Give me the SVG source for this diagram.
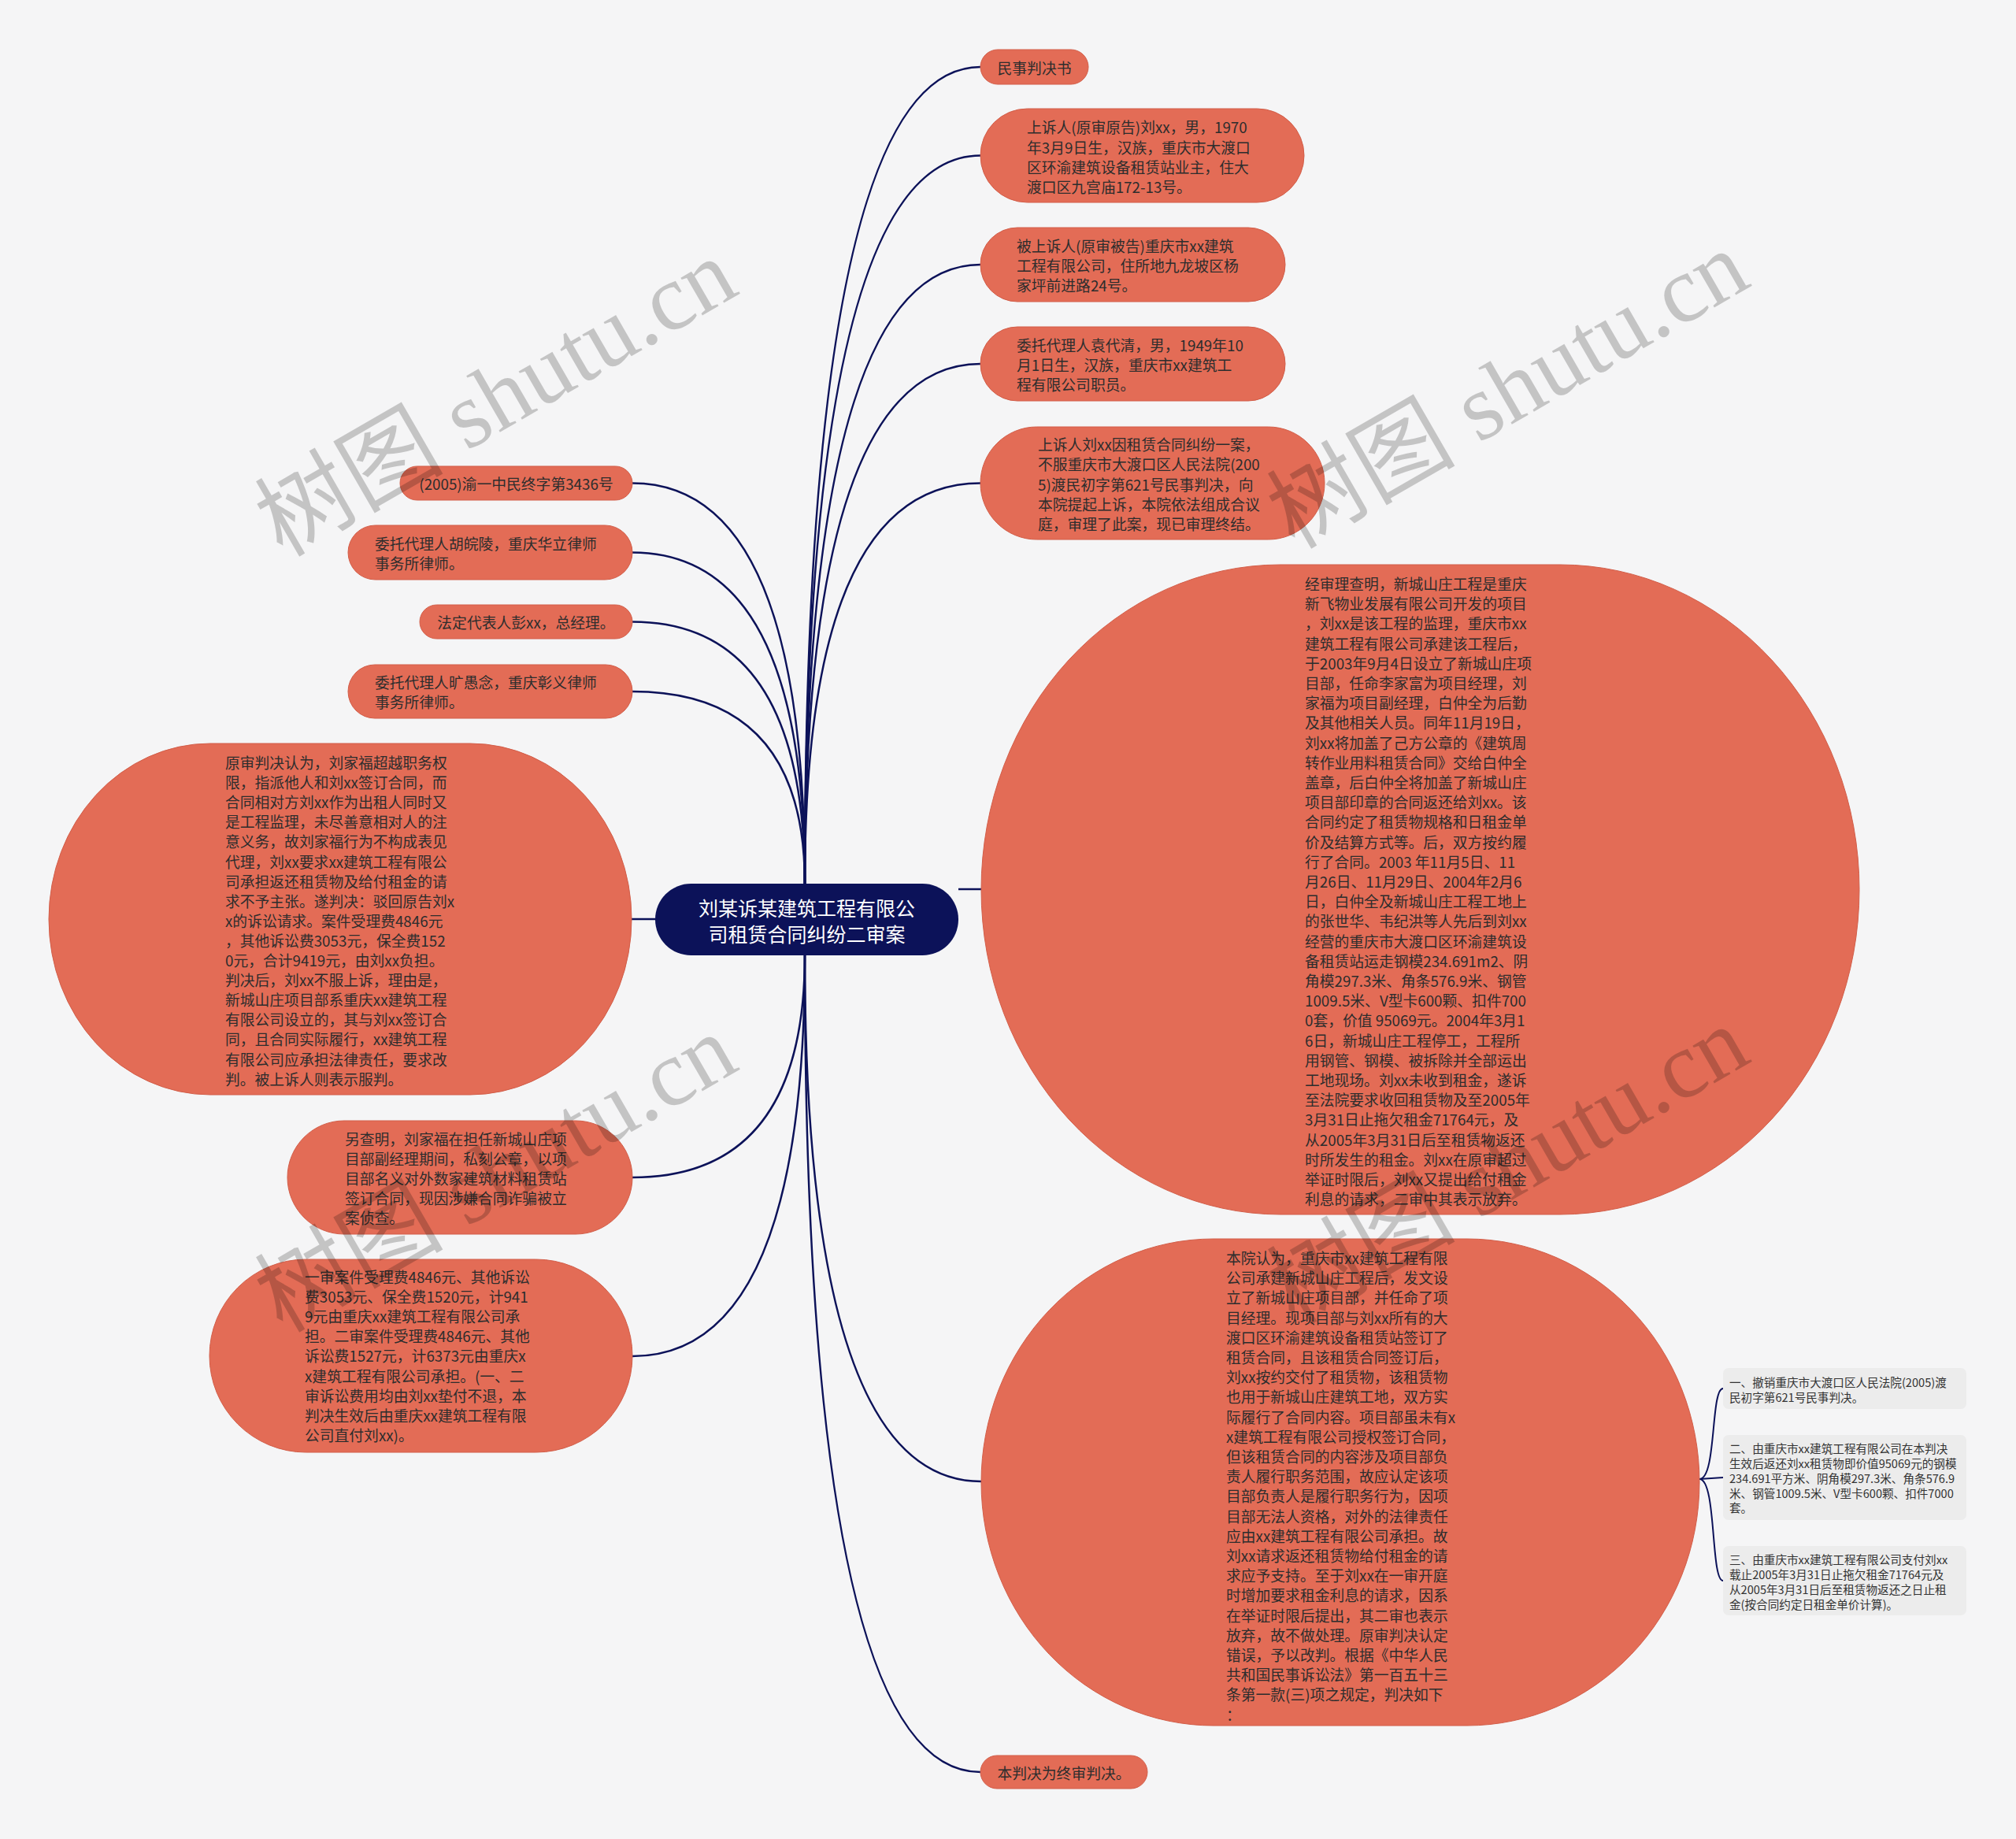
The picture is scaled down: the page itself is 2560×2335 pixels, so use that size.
<svg xmlns="http://www.w3.org/2000/svg" width="2560" height="2335" viewBox="0 0 2560 2335">
<style>
.n rect{fill:#e36c56;stroke:#d25d48;stroke-width:1}
.t{font-family:"Noto Sans CJK SC","Noto Sans",sans-serif;font-size:18.8px;fill:#2d2d2d;dominant-baseline:central}
.m{text-anchor:middle}
.c path{stroke:#0c1259;fill:none;stroke-width:2.5}
.lf rect{fill:#ececec}
.lt{font-family:"Noto Sans CJK SC","Noto Sans",sans-serif;font-size:14.6px;fill:#333;dominant-baseline:central}
.wm{font-family:"Liberation Serif","Noto Sans CJK SC",serif;font-size:120px;fill:#000;fill-opacity:0.2;text-anchor:middle}
</style>
<rect x="0" y="0" width="2560" height="2335" fill="#f5f5f6"/>
<g class="c" id="connectors">
<path d="M1022,1122 Q1022,85 1245,85"/>
<path d="M1022,1122 Q1022,197.5 1245,197.5"/>
<path d="M1022,1122 Q1022,336 1245,336"/>
<path d="M1022,1122 Q1022,462 1245,462"/>
<path d="M1022,1122 Q1022,613.5 1245,613.5"/>
<path d="M1022,1122 Q1022,613.5 803,613.5"/>
<path d="M1022,1122 Q1022,701.5 803,701.5"/>
<path d="M1022,1122 Q1022,789.5 803,789.5"/>
<path d="M1022,1122 Q1022,878 803,878"/>
<path d="M832,1167 L802,1167"/>
<path d="M1217,1129 L1246,1129"/>
<path d="M1022,1213 Q1022,1495 803,1495"/>
<path d="M1022,1213 Q1022,1722 803,1722"/>
<path d="M1022,1213 Q1022,1881 1246,1881"/>
<path d="M1022,1213 Q1022,2250 1245,2250"/>
<path d="M2158,1878 C2180,1878 2172,1763 2188,1763" style="stroke-width:2"/>
<path d="M2158,1878 L2188,1876" style="stroke-width:2"/>
<path d="M2158,1878 C2180,1878 2172,2007 2188,2007" style="stroke-width:2"/>
</g>
<g id="root">
<rect x="832" y="1122" width="385" height="91" rx="45.5" fill="#0c1259"/>
<text x="1024.5" y="1152" font-family="Noto Sans CJK SC, sans-serif" font-size="25" fill="#fff" text-anchor="middle" dominant-baseline="central">刘某诉某建筑工程有限公</text>
<text x="1024.5" y="1185" font-family="Noto Sans CJK SC, sans-serif" font-size="25" fill="#fff" text-anchor="middle" dominant-baseline="central">司租赁合同纠纷二审案</text>
</g>
<g class="n" id="n1"><rect x="1245" y="63" width="137" height="44" rx="22"/><text class="t m" x="1313.5" y="85">民事判决书</text></g>
<g class="n" id="n2"><rect x="1245" y="138" width="411" height="119" rx="59.5"/>
<text class="t"><tspan x="1304" y="160">上诉人(原审原告)刘xx，男，1970</tspan><tspan x="1304" y="185.5">年3月9日生，汉族，重庆市大渡口</tspan><tspan x="1304" y="211">区环渝建筑设备租赁站业主，住大</tspan><tspan x="1304" y="236">渡口区九宫庙172-13号。</tspan></text></g>
<g class="n" id="n3"><rect x="1245" y="289" width="387" height="94" rx="47"/>
<text class="t"><tspan x="1291" y="311">被上诉人(原审被告)重庆市xx建筑</tspan><tspan x="1291" y="336">工程有限公司，住所地九龙坡区杨</tspan><tspan x="1291" y="361">家坪前进路24号。</tspan></text></g>
<g class="n" id="n4"><rect x="1245" y="415" width="387" height="94" rx="47"/>
<text class="t"><tspan x="1291" y="437">委托代理人袁代清，男，1949年10</tspan><tspan x="1291" y="462">月1日生，汉族，重庆市xx建筑工</tspan><tspan x="1291" y="487">程有限公司职员。</tspan></text></g>
<g class="n" id="n5"><rect x="1245" y="542" width="437" height="143" rx="71.5"/>
<text class="t"><tspan x="1318" y="563">上诉人刘xx因租赁合同纠纷一案，</tspan><tspan x="1318" y="588">不服重庆市大渡口区人民法院(200</tspan><tspan x="1318" y="613.5">5)渡民初字第621号民事判决，向</tspan><tspan x="1318" y="638.5">本院提起上诉，本院依法组成合议</tspan><tspan x="1318" y="664">庭，审理了此案，现已审理终结。</tspan></text></g>
<g class="n" id="n6"><rect x="508" y="592" width="295" height="43" rx="21.5"/><text class="t m" x="655.5" y="613.5">(2005)渝一中民终字第3436号</text></g>
<g class="n" id="n7"><rect x="442" y="667" width="361" height="69" rx="34.5"/>
<text class="t"><tspan x="476" y="689">委托代理人胡皖陵，重庆华立律师</tspan><tspan x="476" y="714">事务所律师。</tspan></text></g>
<g class="n" id="n8"><rect x="533" y="768" width="270" height="43" rx="21.5"/><text class="t m" x="668" y="789.5">法定代表人彭xx，总经理。</text></g>
<g class="n" id="n9"><rect x="442" y="844" width="361" height="68" rx="34"/>
<text class="t"><tspan x="476" y="865">委托代理人旷愚念，重庆彰义律师</tspan><tspan x="476" y="890">事务所律师。</tspan></text></g>
<g class="n" id="n10"><rect x="62" y="944" width="740" height="446" rx="205" ry="223"/>
<text class="t"><tspan x="286" y="967">原审判决认为，刘家福超越职务权</tspan><tspan x="286" y="992.1">限，指派他人和刘xx签订合同，而</tspan><tspan x="286" y="1017.2">合同相对方刘xx作为出租人同时又</tspan><tspan x="286" y="1042.3">是工程监理，未尽善意相对人的注</tspan><tspan x="286" y="1067.4">意义务，故刘家福行为不构成表见</tspan><tspan x="286" y="1092.5">代理，刘xx要求xx建筑工程有限公</tspan><tspan x="286" y="1117.6">司承担返还租赁物及给付租金的请</tspan><tspan x="286" y="1142.7">求不予主张。遂判决：驳回原告刘x</tspan><tspan x="286" y="1167.8">x的诉讼请求。案件受理费4846元</tspan><tspan x="286" y="1192.9">，其他诉讼费3053元，保全费152</tspan><tspan x="286" y="1218">0元，合计9419元，由刘xx负担。</tspan><tspan x="286" y="1243.1">判决后，刘xx不服上诉，理由是，</tspan><tspan x="286" y="1268.2">新城山庄项目部系重庆xx建筑工程</tspan><tspan x="286" y="1293.3">有限公司设立的，其与刘xx签订合</tspan><tspan x="286" y="1318.4">同，且合同实际履行，xx建筑工程</tspan><tspan x="286" y="1343.5">有限公司应承担法律责任，要求改</tspan><tspan x="286" y="1368.6">判。被上诉人则表示服判。</tspan></text></g>
<g class="n" id="n11"><rect x="365" y="1423" width="438" height="144" rx="72"/>
<text class="t"><tspan x="438" y="1445">另查明，刘家福在担任新城山庄项</tspan><tspan x="438" y="1470">目部副经理期间，私刻公章，以项</tspan><tspan x="438" y="1495">目部名义对外数家建筑材料租赁站</tspan><tspan x="438" y="1520">签订合同，现因涉嫌合同诈骗被立</tspan><tspan x="438" y="1545">案侦查。</tspan></text></g>
<g class="n" id="n12"><rect x="266" y="1599" width="537" height="245" rx="122.5"/>
<text class="t"><tspan x="387" y="1620">一审案件受理费4846元、其他诉讼</tspan><tspan x="387" y="1645.1">费3053元、保全费1520元，计941</tspan><tspan x="387" y="1670.2">9元由重庆xx建筑工程有限公司承</tspan><tspan x="387" y="1695.3">担。二审案件受理费4846元、其他</tspan><tspan x="387" y="1720.4">诉讼费1527元，计6373元由重庆x</tspan><tspan x="387" y="1745.5">x建筑工程有限公司承担。(一、二</tspan><tspan x="387" y="1770.6">审诉讼费用均由刘xx垫付不退，本</tspan><tspan x="387" y="1795.7">判决生效后由重庆xx建筑工程有限</tspan><tspan x="387" y="1820.8">公司直付刘xx)。</tspan></text></g>
<g class="n" id="n13"><rect x="1246" y="717" width="1115" height="825" rx="380" ry="412.5"/>
<text class="t"><tspan x="1657" y="740">经审理查明，新城山庄工程是重庆</tspan><tspan x="1657" y="765.2">新飞物业发展有限公司开发的项目</tspan><tspan x="1657" y="790.4">，刘xx是该工程的监理，重庆市xx</tspan><tspan x="1657" y="815.6">建筑工程有限公司承建该工程后，</tspan><tspan x="1657" y="840.8">于2003年9月4日设立了新城山庄项</tspan><tspan x="1657" y="866">目部，任命李家富为项目经理，刘</tspan><tspan x="1657" y="891.2">家福为项目副经理，白仲全为后勤</tspan><tspan x="1657" y="916.4">及其他相关人员。同年11月19日，</tspan><tspan x="1657" y="941.6">刘xx将加盖了己方公章的《建筑周</tspan><tspan x="1657" y="966.8">转作业用料租赁合同》交给白仲全</tspan><tspan x="1657" y="992">盖章，后白仲全将加盖了新城山庄</tspan><tspan x="1657" y="1017.2">项目部印章的合同返还给刘xx。该</tspan><tspan x="1657" y="1042.4">合同约定了租赁物规格和日租金单</tspan><tspan x="1657" y="1067.6">价及结算方式等。后，双方按约履</tspan><tspan x="1657" y="1092.8">行了合同。2003 年11月5日、11</tspan><tspan x="1657" y="1118">月26日、11月29日、2004年2月6</tspan><tspan x="1657" y="1143.2">日，白仲全及新城山庄工程工地上</tspan><tspan x="1657" y="1168.4">的张世华、韦纪洪等人先后到刘xx</tspan><tspan x="1657" y="1193.6">经营的重庆市大渡口区环渝建筑设</tspan><tspan x="1657" y="1218.8">备租赁站运走钢模234.691m2、阴</tspan><tspan x="1657" y="1244">角模297.3米、角条576.9米、钢管</tspan><tspan x="1657" y="1269.2">1009.5米、V型卡600颗、扣件700</tspan><tspan x="1657" y="1294.4">0套，价值 95069元。2004年3月1</tspan><tspan x="1657" y="1319.6">6日，新城山庄工程停工，工程所</tspan><tspan x="1657" y="1344.8">用钢管、钢模、被拆除并全部运出</tspan><tspan x="1657" y="1370">工地现场。刘xx未收到租金，遂诉</tspan><tspan x="1657" y="1395.2">至法院要求收回租赁物及至2005年</tspan><tspan x="1657" y="1420.4">3月31日止拖欠租金71764元，及</tspan><tspan x="1657" y="1445.6">从2005年3月31日后至租赁物返还</tspan><tspan x="1657" y="1470.8">时所发生的租金。刘xx在原审超过</tspan><tspan x="1657" y="1496">举证时限后，刘xx又提出给付租金</tspan><tspan x="1657" y="1521.2">利息的请求，二审中其表示放弃。</tspan></text></g>
<g class="n" id="n14"><rect x="1246" y="1573" width="912" height="618" rx="295" ry="309"/>
<text class="t"><tspan x="1557" y="1596">本院认为，重庆市xx建筑工程有限</tspan><tspan x="1557" y="1621.2">公司承建新城山庄工程后，发文设</tspan><tspan x="1557" y="1646.4">立了新城山庄项目部，并任命了项</tspan><tspan x="1557" y="1671.6">目经理。现项目部与刘xx所有的大</tspan><tspan x="1557" y="1696.8">渡口区环渝建筑设备租赁站签订了</tspan><tspan x="1557" y="1722">租赁合同，且该租赁合同签订后，</tspan><tspan x="1557" y="1747.2">刘xx按约交付了租赁物，该租赁物</tspan><tspan x="1557" y="1772.4">也用于新城山庄建筑工地，双方实</tspan><tspan x="1557" y="1797.6">际履行了合同内容。项目部虽未有x</tspan><tspan x="1557" y="1822.8">x建筑工程有限公司授权签订合同，</tspan><tspan x="1557" y="1848">但该租赁合同的内容涉及项目部负</tspan><tspan x="1557" y="1873.2">责人履行职务范围，故应认定该项</tspan><tspan x="1557" y="1898.4">目部负责人是履行职务行为，因项</tspan><tspan x="1557" y="1923.6">目部无法人资格，对外的法律责任</tspan><tspan x="1557" y="1948.8">应由xx建筑工程有限公司承担。故</tspan><tspan x="1557" y="1974">刘xx请求返还租赁物给付租金的请</tspan><tspan x="1557" y="1999.2">求应予支持。至于刘xx在一审开庭</tspan><tspan x="1557" y="2024.4">时增加要求租金利息的请求，因系</tspan><tspan x="1557" y="2049.6">在举证时限后提出，其二审也表示</tspan><tspan x="1557" y="2074.8">放弃，故不做处理。原审判决认定</tspan><tspan x="1557" y="2100">错误，予以改判。根据《中华人民</tspan><tspan x="1557" y="2125.2">共和国民事诉讼法》第一百五十三</tspan><tspan x="1557" y="2150.4">条第一款(三)项之规定，判决如下</tspan><tspan x="1557" y="2175.6">：</tspan></text></g>
<g class="n" id="n15"><rect x="1245" y="2229" width="212" height="42" rx="21"/><text class="t m" x="1351" y="2250">本判决为终审判决。</text></g>
<g class="lf" id="l1"><rect x="2188" y="1737" width="309" height="52" rx="7"/>
<text class="lt"><tspan x="2196" y="1754">一、撤销重庆市大渡口区人民法院(2005)渡</tspan><tspan x="2196" y="1773">民初字第621号民事判决。</tspan></text></g>
<g class="lf" id="l2"><rect x="2188" y="1822" width="309" height="108" rx="7"/>
<text class="lt"><tspan x="2196" y="1838">二、由重庆市xx建筑工程有限公司在本判决</tspan><tspan x="2196" y="1857">生效后返还刘xx租赁物即价值95069元的钢模</tspan><tspan x="2196" y="1876">234.691平方米、阴角模297.3米、角条576.9</tspan><tspan x="2196" y="1894.5">米、钢管1009.5米、V型卡600颗、扣件7000</tspan><tspan x="2196" y="1913">套。</tspan></text></g>
<g class="lf" id="l3"><rect x="2188" y="1963" width="309" height="88" rx="7"/>
<text class="lt"><tspan x="2196" y="1979">三、由重庆市xx建筑工程有限公司支付刘xx</tspan><tspan x="2196" y="1998">载止2005年3月31日止拖欠租金71764元及</tspan><tspan x="2196" y="2017">从2005年3月31日后至租赁物返还之日止租</tspan><tspan x="2196" y="2035.5">金(按合同约定日租金单价计算)。</tspan></text></g>
<g id="watermarks">
<text class="wm" transform="translate(650,540) rotate(-30)">树图 shutu.cn</text>
<text class="wm" transform="translate(1935,530) rotate(-30)">树图 shutu.cn</text>
<text class="wm" transform="translate(650,1525) rotate(-30)">树图 shutu.cn</text>
<text class="wm" transform="translate(1935,1515) rotate(-30)">树图 shutu.cn</text>
</g>
</svg>
